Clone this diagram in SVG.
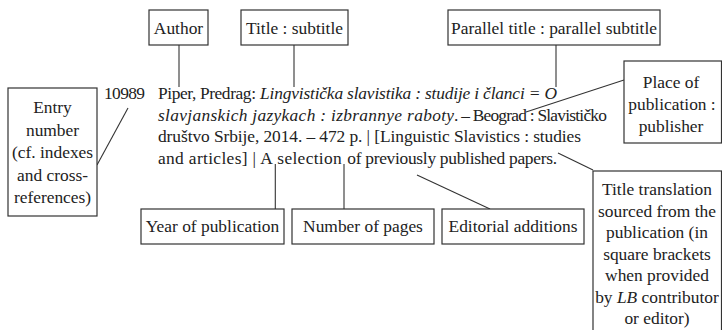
<svg xmlns="http://www.w3.org/2000/svg" width="722" height="330" viewBox="0 0 722 330" font-family="Liberation Serif" font-size="17.4">
<style>
.bg{fill:#fff}
.box{fill:#fff;stroke:#333;stroke-width:1.2}
.t{fill:#222}
.c{text-anchor:middle}
.i{font-style:italic}
.conn line{stroke:#333;stroke-width:1.1}
</style>
<rect class="bg" x="0" y="0" width="722" height="330"/>

<g id="entry-text">
<text class="t" x="104" y="99" textLength="41">10989</text>
<text class="t" x="158" y="99" textLength="98">Piper, Predrag:</text>
<text class="t i" x="260" y="99" textLength="297">Lingvistička slavistika : studije i članci = O</text>
<text class="t i" x="158" y="120.5" textLength="296">slavjanskich jazykach : izbrannye raboty</text>
<text class="t" x="454" y="120.5" textLength="153">. – Beograd : Slavističko</text>
<text class="t" x="158" y="142" textLength="423">društvo Srbije, 2014. – 472 p. | [Linguistic Slavistics : studies</text>
<text class="t" x="158" y="163.5" textLength="114.7">and articles] | A</text>
<text class="t" x="277.3" y="163.5" textLength="64.4">selection</text>
<text class="t" x="347.3" y="163.5" textLength="209.7">of previously published papers.</text>
</g>

<g class="conn" id="connectors">
<line x1="179" y1="45" x2="179" y2="87"/>
<line x1="294" y1="45" x2="294" y2="87"/>
<line x1="556" y1="45" x2="556" y2="87"/>
<line x1="624" y1="80" x2="526" y2="112"/>
<line x1="97" y1="165" x2="128" y2="108"/>
<line x1="275.3" y1="164" x2="275.3" y2="209"/>
<line x1="344" y1="164" x2="344" y2="209"/>
<line x1="417" y1="175" x2="490" y2="209"/>
<line x1="558" y1="153" x2="593" y2="170"/>
</g>

<g id="author">
<rect class="box" x="149" y="10" width="59" height="35"/>
<text class="t c" x="178.5" y="33.5">Author</text>
</g>
<g id="title">
<rect class="box" x="241" y="10" width="107" height="35"/>
<text class="t c" x="294.5" y="33.5">Title : subtitle</text>
</g>
<g id="parallel-title">
<rect class="box" x="448" y="10" width="212" height="35"/>
<text class="t c" x="554" y="33.5" textLength="206">Parallel title : parallel subtitle</text>
</g>
<g id="place">
<rect class="box" x="624" y="61" width="97.5" height="82"/>
<text class="t c" x="671" y="88">Place of</text>
<text class="t c" x="672" y="110">publication :</text>
<text class="t c" x="671" y="132">publisher</text>
</g>
<g id="entry-number">
<rect class="box" x="8" y="88" width="89" height="128"/>
<text class="t c" x="52.5" y="113">Entry</text>
<text class="t c" x="52.5" y="135.5">number</text>
<text class="t c" x="52.5" y="158">(cf. indexes</text>
<text class="t c" x="52.5" y="180.5">and cross-</text>
<text class="t c" x="52.5" y="203">references)</text>
</g>
<g id="year">
<rect class="box" x="141" y="209" width="143" height="35"/>
<text class="t c" x="212.5" y="232">Year of publication</text>
</g>
<g id="pages">
<rect class="box" x="292" y="209" width="142" height="35"/>
<text class="t c" x="363" y="232">Number of pages</text>
</g>
<g id="editorial">
<rect class="box" x="442" y="209" width="142" height="35"/>
<text class="t c" x="513" y="232">Editorial additions</text>
</g>
<g id="translation">
<rect class="box" x="593" y="171" width="128.5" height="175"/>
<text class="t c" x="657" y="195">Title translation</text>
<text class="t c" x="657" y="216.5">sourced from the</text>
<text class="t c" x="657" y="238">publication (in</text>
<text class="t c" x="657" y="259.5">square brackets</text>
<text class="t c" x="657" y="281">when provided</text>
<text class="t c" x="657" y="302.5">by <tspan class="i">LB</tspan> contributor</text>
<text class="t c" x="657" y="324">or editor)</text>
</g>
</svg>
